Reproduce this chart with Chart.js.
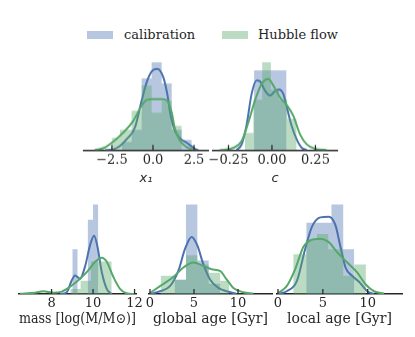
<!DOCTYPE html>
<html>
<head>
<meta charset="utf-8">
<script src="https://cdn.jsdelivr.net/npm/chart.js@4.4.0/dist/chart.umd.min.js"></script>
<style>
    body { margin: 0; width: 415px; height: 337px; background: #fff; position: relative; overflow: hidden; font-family: 'DejaVu Serif'; }
    .panel { position: absolute; }
    .swatch { position: absolute; width: 26px; height: 8px; }
    .leg-text { position: absolute; font-size: 13px; color: #262626; line-height: 16px; }
</style>
</head>
<body>

<div class="swatch" style="left:87px;top:31px;background:rgba(76,114,176,0.4)"></div>
<div class="leg-text" style="left:124px;top:27px">calibration</div>
<div class="swatch" style="left:222px;top:31px;background:rgba(85,168,104,0.4)"></div>
<div class="leg-text" style="left:258px;top:27px">Hubble flow</div>

<!-- canvases reach 12px past each axis end; layout padding keeps the axis in place -->
<div class="panel" style="left:72px;top:57px;width:148px;height:130.5px"><canvas id="chartX1"></canvas></div>
<div class="panel" style="left:201px;top:57px;width:148px;height:130.5px"><canvas id="chartC"></canvas></div>
<div class="panel" style="left:7px;top:200px;width:141px;height:130px"><canvas id="chartMass"></canvas></div>
<div class="panel" style="left:137px;top:200px;width:147px;height:130px"><canvas id="chartGlobal"></canvas></div>
<div class="panel" style="left:265px;top:200px;width:149px;height:130px"><canvas id="chartLocal"></canvas></div>

<script>
// ========================================
// DATA (heights = relative density)
// ========================================

// x1 (stretch)
const x1Range = [-4.2, 3.35];
const x1Ticks = [-2.5, 0, 2.5];
const x1TickLabels = ['\u22122.5', '0.0', '2.5'];
const x1CalEdges = [-1.91, -1.30, -0.69, -0.08, 0.53, 1.14, 1.75, 2.36];
const x1CalHist = [8, 20, 71, 87, 66, 20, 10];
const x1HubEdges = [-2.52, -2.01, -1.30, -0.69, -0.08, 0.53, 1.14, 1.75];
const x1HubHist = [12, 20, 39, 64, 37, 49, 24];
const x1CalKdeX = [-2.9, -2.42, -2.01, -1.61, -1.10, -0.69, -0.39, -0.08, 0.26, 0.63, 0.87, 1.08, 1.34, 1.65, 2.05, 2.56, 2.76];
const x1CalKdeY = [0, 0.7, 4, 10.7, 22.3, 49, 67, 78, 80.7, 72.3, 55.7, 34, 19, 11.7, 7.3, 1.3, 0];
const x1HubKdeX = [-3.54, -2.95, -2.42, -1.81, -1.20, -0.69, -0.39, 0.02, 0.53, 0.87, 1.14, 1.34, 1.65, 2.05, 2.46];
const x1HubKdeY = [0, 2.3, 8.3, 17.3, 29, 44, 49.7, 50.7, 50.7, 49, 37.3, 20.7, 9, 3, 0.3];

// c (colour)
const cRange = [-0.339, 0.374];
const cTicks = [-0.25, 0, 0.25];
const cTickLabels = ['\u22120.25', '0.00', '0.25'];
const cCalEdges = [-0.103, -0.009, 0.084];
const cCalHist = [79, 79];
const cHubEdges = [-0.155, -0.107, -0.056, -0.006, 0.040, 0.088, 0.142];
const cHubHist = [17, 50, 87, 60, 50, 31, 10];
const cCalKdeX = [-0.203, -0.174, -0.145, -0.117, -0.088, -0.069, -0.040, -0.011, 0.017, 0.040, 0.065, 0.088, 0.113, 0.142, 0.171, 0.200];
const cCalKdeY = [0, 5.7, 25.7, 55.7, 69, 68.3, 59, 54, 58.3, 60, 55.7, 40.7, 24, 10.7, 2.3, 0];
const cHubKdeX = [-0.30, -0.22, -0.174, -0.136, -0.098, -0.059, -0.021, 0.008, 0.046, 0.088, 0.123, 0.161, 0.200, 0.247, 0.314];
const cHubKdeY = [0, 2.3, 9, 27.3, 49, 65.7, 70.7, 64, 52.3, 44, 34, 15.7, 5.7, 1.3, 0];

// host mass
const massRange = [6.43, 12.07];
const massTicks = [8, 10, 12];
const massTickLabels = ['8', '10', '12'];
const massCalEdges = [9.0, 9.25, 9.5, 9.75, 10.0, 10.25];
const massCalHist = [44, 0, 0, 73, 88];
const massHubEdges = [8.9, 9.4, 9.9, 10.4, 10.9];
const massHubHist = [5, 13, 32, 32];
const massCalKdeX = [8.41, 8.73, 8.97, 9.13, 9.37, 9.61, 9.86, 10.05, 10.21, 10.42, 10.66, 10.90];
const massCalKdeY = [0, 1.7, 13.3, 18.3, 15, 26.7, 48.3, 57.3, 46.7, 21.7, 5, 0];
const massHubKdeX = [6.48, 7.2, 7.6, 8.09, 8.49, 8.97, 9.37, 9.77, 10.10, 10.42, 10.66, 10.98, 11.30, 11.62, 12.0];
const massHubKdeY = [0.3, 1.2, 2.7, 1.3, 2.3, 8.3, 15, 23.3, 31.7, 35.7, 31.7, 16.7, 5, 0.7, 0];

// global age
const globalRange = [-0.11, 13.86];
const globalTicks = [0, 5, 10];
const globalTickLabels = ['0', '5', '10'];
const globalCalEdges = [2.8, 4.09, 5.38, 6.67, 7.96];
const globalCalHist = [14, 88, 33, 10];
const globalHubEdges = [1.21, 2.84, 4.09, 5.38, 6.67, 7.96, 9.0];
const globalHubHist = [18, 14, 38, 29, 21, 13];
const globalCalKdeX = [0, 1.14, 2.27, 3.22, 3.98, 4.73, 5.38, 6.06, 6.82, 7.77, 8.71, 9.85];
const globalCalKdeY = [0, 2.7, 7.7, 22.7, 44.3, 56, 47.7, 29.3, 14.3, 6, 2.7, 0.3];
const globalHubKdeX = [0, 1.14, 2.65, 3.79, 4.92, 6.06, 7.01, 7.95, 8.71, 9.47, 10.6, 11.74];
const globalHubKdeY = [1, 7.7, 16.7, 26, 31, 27.7, 24.3, 22.7, 14.3, 6, 1.7, 0.3];

// local age
const localRange = [-0.11, 13.82];
const localTicks = [0, 5, 10];
const localTickLabels = ['0', '5', '10'];
const localCalEdges = [3.15, 4.35, 5.96, 7.27, 8.5];
const localCalHist = [70, 70, 88, 44];
const localHubEdges = [1.7, 3.15, 4.35, 5.6, 7.27, 8.5, 9.8];
const localHubHist = [39, 53, 59, 44, 18, 29];
const localCalKdeX = [0.04, 0.97, 2.10, 3.03, 3.78, 4.72, 5.66, 6.40, 6.97, 7.53, 8.28, 9.03, 9.96, 10.7];
const localCalKdeY = [0, 2.7, 12.7, 44.3, 66, 75.3, 76, 67.7, 46, 26, 17.7, 12, 2.7, 0];
const localHubKdeX = [0.04, 0.97, 1.91, 2.85, 3.60, 4.72, 5.66, 6.60, 7.72, 8.84, 9.78, 10.7, 11.83];
const localHubKdeY = [1, 7.7, 24.3, 46.7, 52.7, 54.3, 51, 41, 31, 21, 9.3, 2.7, 0.3];

// ========================================
// STYLE
// ========================================
const calColor = '#4C72B0';
const hubColor = '#55A868';
const calFill = 'rgba(76, 114, 176, 0.4)';
const hubFill = 'rgba(85, 168, 104, 0.4)';
const axisColor = '#262626';

// Ticks pointing up, into the plot
const innerTicks = {
    id: 'innerTicks',
    afterDatasetsDraw(chart) {
        const { ctx, chartArea, scales } = chart;
        const x = scales.x;
        ctx.save();
        ctx.strokeStyle = axisColor;
        ctx.lineWidth = 1.25;
        x.ticks.forEach(t => {
            const px = x.getPixelForValue(t.value);
            ctx.beginPath();
            ctx.moveTo(px, chartArea.bottom);
            ctx.lineTo(px, chartArea.bottom - 5);
            ctx.stroke();
        });
        ctx.restore();
    }
};

// Histogram as a filled step line: segment [e_i, e_i+1] has height h_i
function histPoints(edges, heights) {
    return edges.map((e, i) => ({ x: e, y: i < heights.length ? heights[i] : 0 }));
}

function kdePoints(xs, ys) {
    return xs.map((x, i) => ({ x: x, y: ys[i] }));
}

function makePanel(id, cfg) {
    const allY = cfg.calHist.concat(cfg.hubHist, cfg.calKdeY, cfg.hubKdeY);
    const yMax = Math.max(...allY) * 1.05;

    return new Chart(document.getElementById(id), {
        type: 'line',
        data: {
            datasets: [
                {
                    data: histPoints(cfg.calEdges, cfg.calHist),
                    stepped: 'before',
                    fill: 'origin',
                    backgroundColor: calFill,
                    borderWidth: 0,
                    pointRadius: 0,
                    order: 4
                },
                {
                    data: kdePoints(cfg.calKdeX, cfg.calKdeY),
                    borderColor: calColor,
                    borderWidth: 2,
                    pointRadius: 0,
                    cubicInterpolationMode: 'monotone',
                    fill: false,
                    order: 3
                },
                {
                    data: histPoints(cfg.hubEdges, cfg.hubHist),
                    stepped: 'before',
                    fill: 'origin',
                    backgroundColor: hubFill,
                    borderWidth: 0,
                    pointRadius: 0,
                    order: 2
                },
                {
                    data: kdePoints(cfg.hubKdeX, cfg.hubKdeY),
                    borderColor: hubColor,
                    borderWidth: 2,
                    pointRadius: 0,
                    cubicInterpolationMode: 'monotone',
                    fill: false,
                    order: 1
                }
            ]
        },
        options: {
            responsive: true,
            maintainAspectRatio: false,
            animation: false,
            layout: { padding: { left: 12, right: 12, top: 0, bottom: 0 } },
            plugins: { legend: { display: false }, tooltip: { enabled: false } },
            scales: {
                x: {
                    type: 'linear',
                    min: cfg.range[0],
                    max: cfg.range[1],
                    afterBuildTicks: (scale) => {
                        scale.ticks = cfg.ticks.map(v => ({ value: v }));
                    },
                    ticks: {
                        autoSkip: false,
                        maxRotation: 0,
                        padding: cfg.tickPad,
                        color: axisColor,
                        font: { family: 'DejaVu Serif', size: 13 },
                        callback: (value) => cfg.tickLabels[cfg.ticks.indexOf(value)]
                    },
                    grid: { display: false, drawTicks: false },
                    border: { display: true, color: axisColor, width: 1.5 },
                    title: {
                        display: true,
                        text: cfg.title,
                        color: axisColor,
                        padding: cfg.titlePad,
                        font: cfg.titleFont
                    }
                },
                y: { display: false, min: 0, max: yMax }
            }
        },
        plugins: [innerTicks]
    });
}

const mathFont = { family: 'DejaVu Sans', size: 13, style: 'italic' };
const labelFont = { family: 'DejaVu Serif', size: 14 };
const topTitlePad = { top: -1, bottom: 2 };
const bottomTitlePad = { top: -2.4, bottom: 2 };

makePanel('chartX1', {
    range: x1Range, ticks: x1Ticks, tickLabels: x1TickLabels,
    calEdges: x1CalEdges, calHist: x1CalHist, hubEdges: x1HubEdges, hubHist: x1HubHist,
    calKdeX: x1CalKdeX, calKdeY: x1CalKdeY, hubKdeX: x1HubKdeX, hubKdeY: x1HubKdeY,
    title: 'x\u2081', titleFont: mathFont, titlePad: topTitlePad, tickPad: 3
});

makePanel('chartC', {
    range: cRange, ticks: cTicks, tickLabels: cTickLabels,
    calEdges: cCalEdges, calHist: cCalHist, hubEdges: cHubEdges, hubHist: cHubHist,
    calKdeX: cCalKdeX, calKdeY: cCalKdeY, hubKdeX: cHubKdeX, hubKdeY: cHubKdeY,
    title: 'c', titleFont: mathFont, titlePad: topTitlePad, tickPad: 3
});

makePanel('chartMass', {
    range: massRange, ticks: massTicks, tickLabels: massTickLabels,
    calEdges: massCalEdges, calHist: massCalHist, hubEdges: massHubEdges, hubHist: massHubHist,
    calKdeX: massCalKdeX, calKdeY: massCalKdeY, hubKdeX: massHubKdeX, hubKdeY: massHubKdeY,
    title: 'mass [log(M/M\u2299)]', titleFont: labelFont, titlePad: bottomTitlePad, tickPad: 2
});

makePanel('chartGlobal', {
    range: globalRange, ticks: globalTicks, tickLabels: globalTickLabels,
    calEdges: globalCalEdges, calHist: globalCalHist, hubEdges: globalHubEdges, hubHist: globalHubHist,
    calKdeX: globalCalKdeX, calKdeY: globalCalKdeY, hubKdeX: globalHubKdeX, hubKdeY: globalHubKdeY,
    title: 'global age [Gyr]', titleFont: labelFont, titlePad: bottomTitlePad, tickPad: 2
});

makePanel('chartLocal', {
    range: localRange, ticks: localTicks, tickLabels: localTickLabels,
    calEdges: localCalEdges, calHist: localCalHist, hubEdges: localHubEdges, hubHist: localHubHist,
    calKdeX: localCalKdeX, calKdeY: localCalKdeY, hubKdeX: localHubKdeX, hubKdeY: localHubKdeY,
    title: 'local age [Gyr]', titleFont: labelFont, titlePad: bottomTitlePad, tickPad: 2
});
</script>
</body>
</html>
